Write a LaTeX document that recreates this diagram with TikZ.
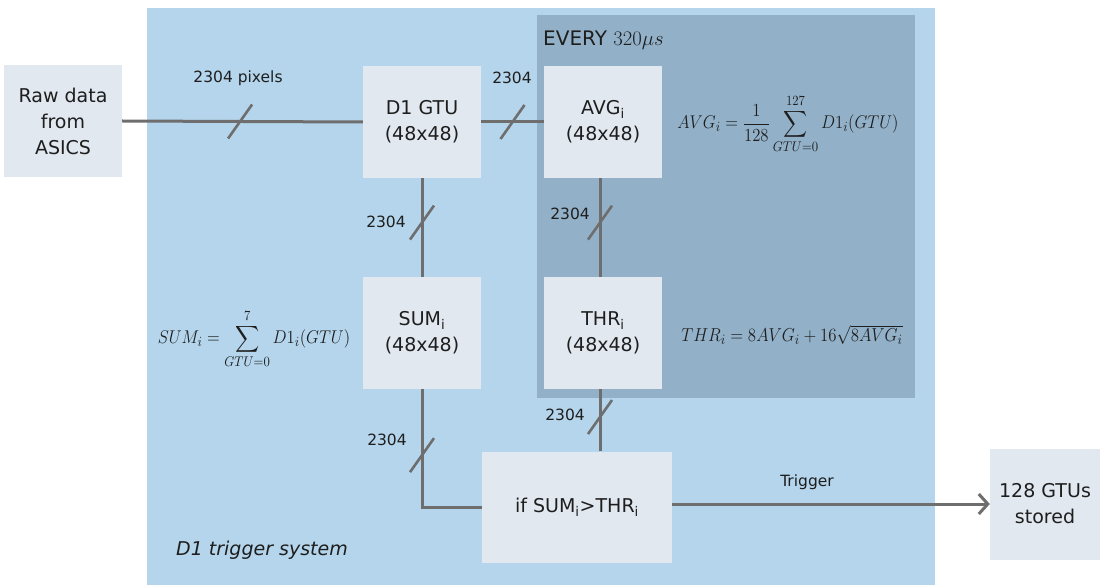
\documentclass[tikz,border=0pt]{standalone}
\usepackage{amsmath}
\usepackage{fontspec}
\setmainfont{DejaVu Sans}
\usetikzlibrary{arrows.meta}
\definecolor{bgblue}{HTML}{B4D5EB}
\definecolor{darkpanel}{HTML}{92B1C8}
\definecolor{boxfill}{HTML}{E1E8F0}
\definecolor{linegray}{HTML}{6E6E6E}
\definecolor{txt}{HTML}{1E1E1E}
\newcommand{\frmscale}[1]{\scalebox{1.16}[1.28]{#1}}
\begin{document}
\begin{tikzpicture}[x=1pt,y=-1pt,
  blk/.style={fill=boxfill, draw=none, text=txt, align=center, minimum width=118pt, minimum height=112pt, inner sep=0pt, font=\fontsize{19}{26}\selectfont},
  conn/.style={draw=linegray, line width=3pt},
  slash/.style={draw=linegray, line width=2.6pt},
  lbl/.style={text=txt, font=\fontsize{15.5}{18}\selectfont, inner sep=0pt},
  frm/.style={text=txt, inner sep=0pt, font=\fontsize{15}{18}\selectfont}
]
\useasboundingbox (0,0) rectangle (1100,585);
\fill[bgblue] (147,8) rectangle (935,585);
\fill[darkpanel] (537,15) rectangle (915,398);

\node[blk, minimum width=118pt, minimum height=112pt] (raw) at (63,121) {Raw data\\from\\ASICS};
\node[blk] (d1) at (422,122) {D1 GTU\\(48x48)};
\node[blk] (avg) at (603,122) {AVG\textsubscript{i}\\(48x48)};
\node[blk] (sum) at (422,333) {SUM\textsubscript{i}\\(48x48)};
\node[blk] (thr) at (603,333) {THR\textsubscript{i}\\(48x48)};
\node[blk, minimum width=190pt, minimum height=111pt] (ifb) at (577,507) {if SUM\textsubscript{i}>THR\textsubscript{i}};
\node[blk, minimum width=110pt, minimum height=111pt] (store) at (1045,504) {128 GTUs\\stored};

\node[text=txt, anchor=west, inner sep=0pt, font=\fontsize{20}{24}\selectfont] (every) at (543,40) {EVERY $320\mu s$};

% connectors
\draw[conn] (raw.east) -- coordinate[pos=0.49] (s1) (d1.west);
\draw[slash] (s1) +(-12,17) -- +(12,-17);
\node[lbl] (l1) at (238,78) {2304 pixels};

\draw[conn] (d1.east) -- coordinate[pos=0.5] (s2) (avg.west);
\draw[slash] (s2) +(-12,17) -- +(12,-17);
\node[lbl] (l2) at (512,78) {2304};

\draw[conn] (d1.south) -- coordinate[pos=0.45] (s3) (d1.south |- sum.north);
\draw[slash] (s3) +(-12,17) -- +(12,-17);
\node[lbl] (l3) at (386,222) {2304};

\draw[conn] (avg.south -| 600,0) -- coordinate[pos=0.45] (s4) (600,277);
\draw[slash] (s4) +(-12,17) -- +(12,-17);
\node[lbl] (l4) at (570,214) {2304};

\coordinate (sumout) at (sum.south);
\draw[conn] (sumout) |- coordinate[pos=0.28] (s5) (ifb.west);
\draw[slash] (s5) +(-12,17) -- +(12,-17);
\node[lbl] (l5) at (387,440) {2304};

\coordinate (throut) at (600,389);
\draw[conn] (throut) -- coordinate[pos=0.45] (s6) (throut |- ifb.north);
\draw[slash] (s6) +(-12,17) -- +(12,-17);
\node[lbl] (l6) at (565,415) {2304};

\draw[conn, -{Straight Barb[length=9pt,width=20pt,line width=3pt]}] (ifb.east |- store.west) -- (store.west);
\node[lbl] (trig) at (807,482) {Trigger};

% formulas
\node[frm] (favg) at (788,124) {\frmscale{$\displaystyle AVG_i=\frac{1}{128}\sum_{GTU=0}^{127} D1_i(GTU)$}};
\node[frm] (fsum) at (254,339) {\frmscale{$\displaystyle SUM_i=\sum_{GTU=0}^{7} D1_i(GTU)$}};
\node[frm] (fthr) at (792,335) {\scalebox{1.17}[1.3]{$THR_i=8AVG_i+16\sqrt{8AVG_i}$}};

\node[text=txt, anchor=west, inner sep=0pt, font=\fontsize{19}{22}\selectfont\itshape] (title) at (176,550) {D1 trigger system};
\end{tikzpicture}
\end{document}
